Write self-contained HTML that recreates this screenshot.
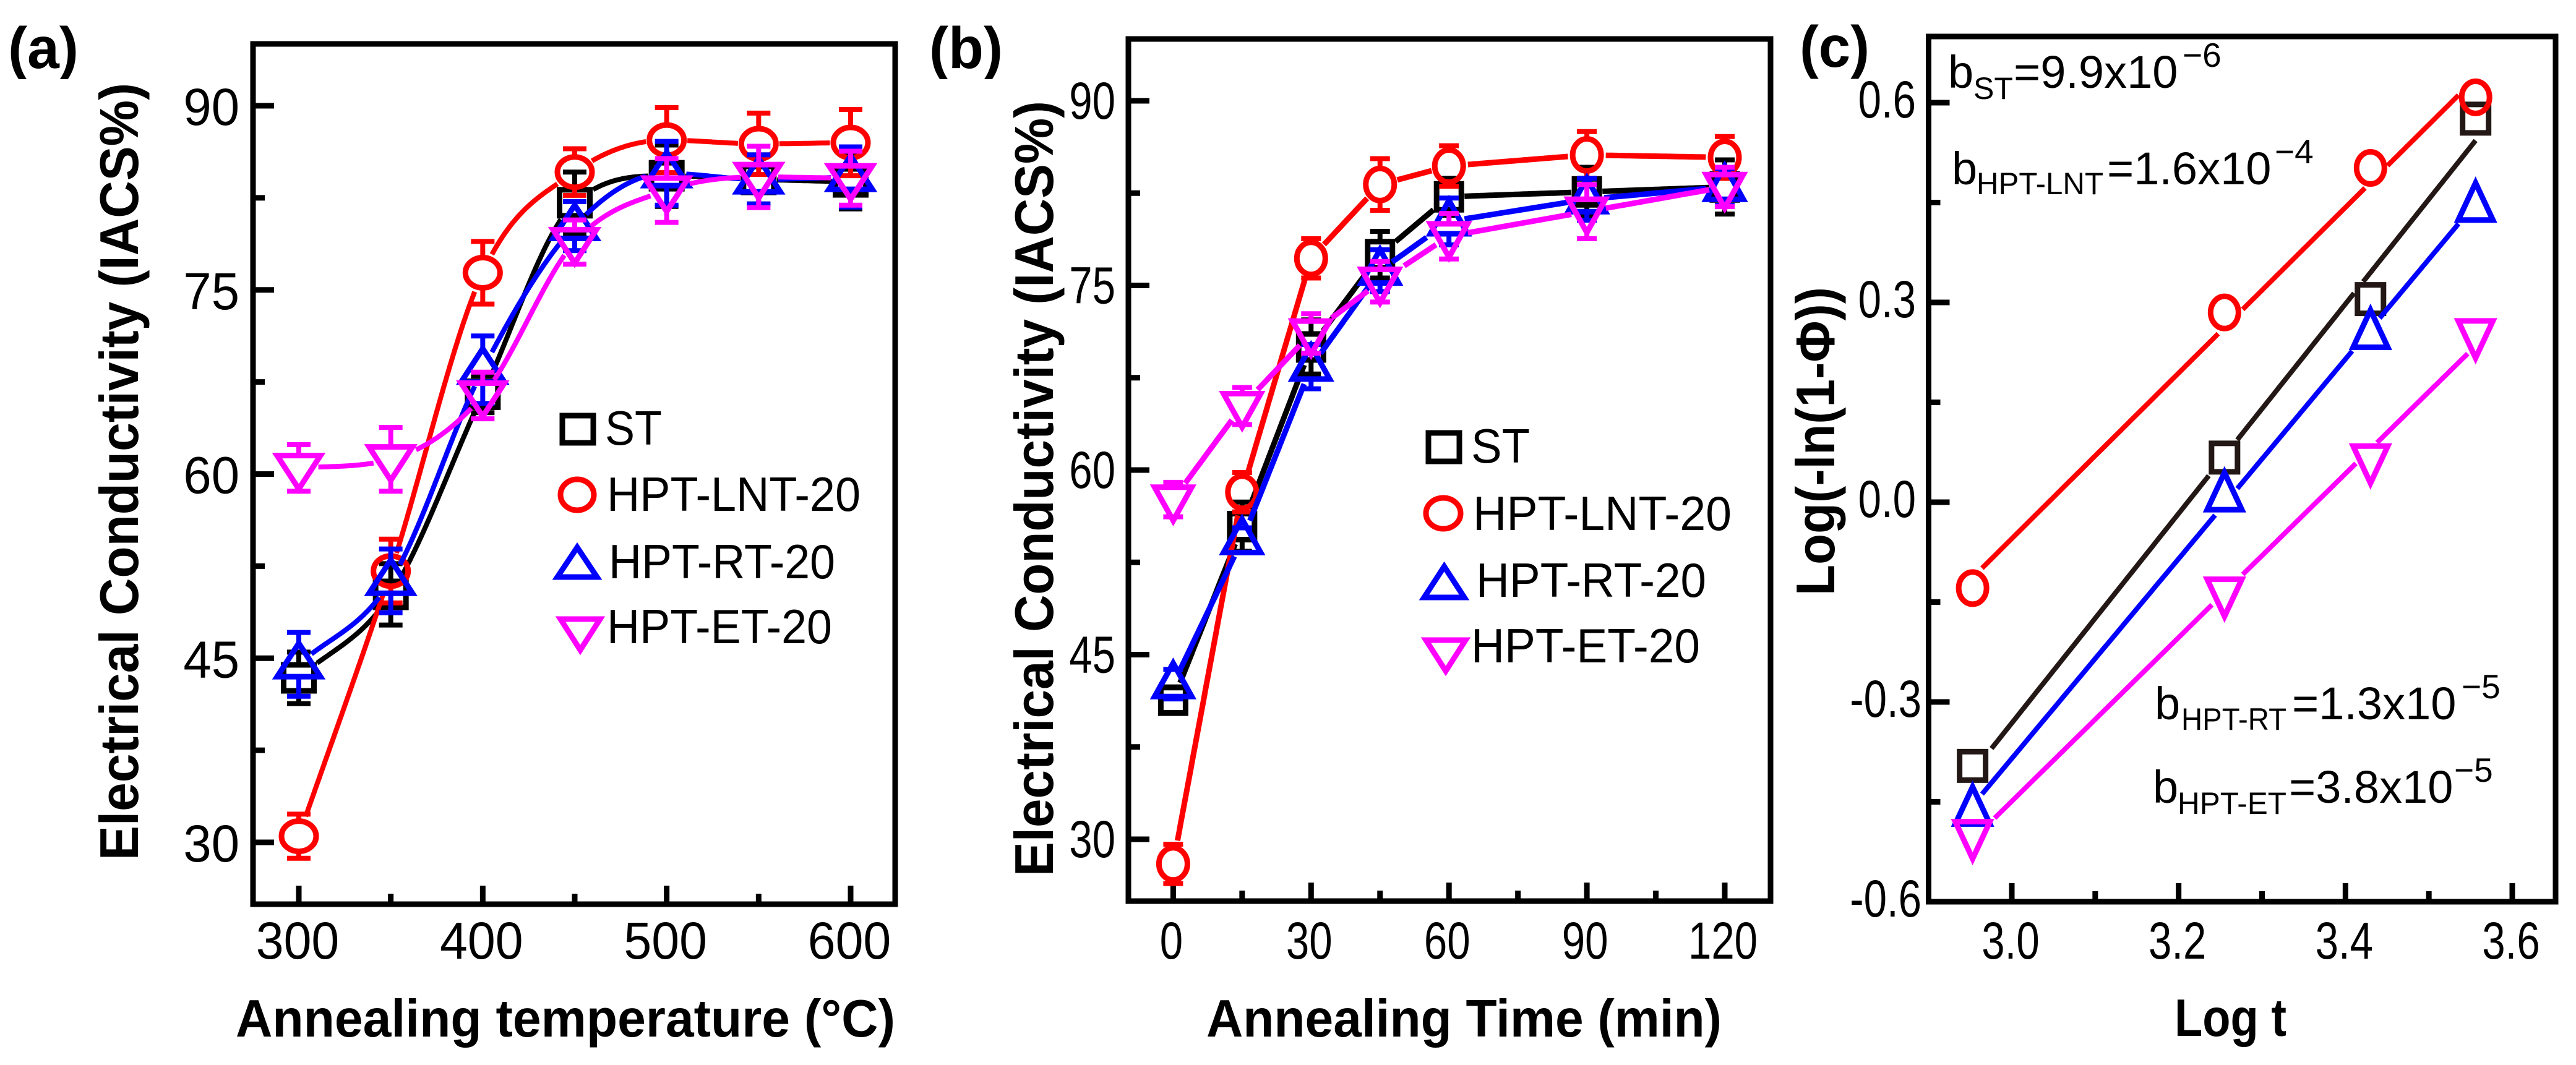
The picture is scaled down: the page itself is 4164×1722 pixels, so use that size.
<!DOCTYPE html>
<html lang="en">
<head>
<meta charset="utf-8">
<title>Electrical conductivity annealing charts</title>
<style>
html,body{margin:0;padding:0;background:#fff;}
svg{display:block;}
text{font-family:"Liberation Sans",Arial,sans-serif;fill:#000;}
.tb{font-weight:bold;font-size:85px;}
.ty{font-weight:bold;font-size:88px;}
.lg{font-size:78px;}
.an{font-size:74px;}
.sub{font-size:50px;}
.sup{font-size:55px;}
.pl{font-weight:bold;font-size:95px;}
.frame{fill:none;stroke:#000;stroke-width:9;}
</style>
</head>
<body>
<svg id="fig" xmlns="http://www.w3.org/2000/svg" width="4164" height="1722" viewBox="0 0 4164 1722">
<defs><clipPath id="plabel-clip"><rect x="0" y="37" width="4164" height="91"/></clipPath></defs>
<rect x="0" y="0" width="4164" height="1722" fill="#fff"/>

<g clip-path="url(#plabel-clip)">
<text class="pl" x="13" y="110" textLength="114" lengthAdjust="spacingAndGlyphs">(a)</text>
<text class="pl" x="1502" y="110" textLength="119" lengthAdjust="spacingAndGlyphs">(b)</text>
<text class="pl" x="2909" y="108" textLength="113" lengthAdjust="spacingAndGlyphs">(c)</text>
</g>

<g id="panel-a">
<rect class="frame" x="409" y="71" width="1038" height="1391"/>
<text class="ty" transform="translate(223,1391) rotate(-90)" textLength="1257" lengthAdjust="spacingAndGlyphs">Electrical Conductivity (IACS%)</text>
<text class="tb" x="381" y="1676" textLength="1066" lengthAdjust="spacingAndGlyphs">Annealing temperature (°C)</text>
</g>

<g id="panel-b">
<rect class="frame" x="1824" y="63" width="1038" height="1394"/>
<text class="ty" transform="translate(1702,1417) rotate(-90)" textLength="1254" lengthAdjust="spacingAndGlyphs">Electrical Conductivity (IACS%)</text>
<text class="tb" x="1950" y="1676" textLength="833" lengthAdjust="spacingAndGlyphs">Annealing Time (min)</text>
</g>

<g id="panel-c">
<rect class="frame" x="3117.5" y="59" width="1013.5" height="1399"/>
<text class="ty" transform="translate(2965,963) rotate(-90)" textLength="499" lengthAdjust="spacingAndGlyphs">Log(-ln(1-Φ))</text>
<text class="tb" x="3515" y="1675" textLength="181" lengthAdjust="spacingAndGlyphs">Log t</text>
<text class="an"><tspan x="3149" y="142">b</tspan><tspan class="sub" x="3190" y="160">ST</tspan><tspan x="3255" y="142">=9.9x10</tspan><tspan class="sup" x="3528" y="108">−6</tspan></text>
<text class="an"><tspan x="3155" y="298">b</tspan><tspan class="sub" x="3195" y="314" textLength="205" lengthAdjust="spacingAndGlyphs">HPT-LNT</tspan><tspan x="3406" y="298">=1.6x10</tspan><tspan class="sup" x="3677" y="264">−4</tspan></text>
<text class="an"><tspan x="3483" y="1163">b</tspan><tspan class="sub" x="3526" y="1180" textLength="170" lengthAdjust="spacingAndGlyphs">HPT-RT</tspan><tspan x="3705" y="1163">=1.3x10</tspan><tspan class="sup" x="3979" y="1129">−5</tspan></text>
<text class="an"><tspan x="3480" y="1298">b</tspan><tspan class="sub" x="3520" y="1316" textLength="176" lengthAdjust="spacingAndGlyphs">HPT-ET</tspan><tspan x="3700" y="1298">=3.8x10</tspan><tspan class="sup" x="3967" y="1264">−5</tspan></text>
</g>

<g id="legend-a">
<g>
<rect x="909" y="672" width="50" height="44" fill="none" stroke="#000" stroke-width="9"/>
<text class="lg" x="978" y="719" textLength="92" lengthAdjust="spacingAndGlyphs">ST</text></g>
<g>
<ellipse cx="933" cy="800" rx="27" ry="25" fill="none" stroke="#f00" stroke-width="9"/>
<text class="lg" x="981" y="826" textLength="410" lengthAdjust="spacingAndGlyphs">HPT-LNT-20</text></g>
<g>
<polygon points="933,885 965,933 901,933" fill="none" stroke="#00f" stroke-width="9"/>
<text class="lg" x="984" y="935" textLength="366" lengthAdjust="spacingAndGlyphs">HPT-RT-20</text></g>
<g>
<polygon points="938,1051 970,1001 906,1001" fill="none" stroke="#f0f" stroke-width="9"/>
<text class="lg" x="981" y="1040" textLength="364" lengthAdjust="spacingAndGlyphs">HPT-ET-20</text></g>
</g>

<g id="legend-b">
<g>
<rect x="2309" y="700" width="50" height="46" fill="none" stroke="#000" stroke-width="9"/>
<text class="lg" x="2378" y="748" textLength="95" lengthAdjust="spacingAndGlyphs">ST</text></g>
<g>
<ellipse cx="2333" cy="830" rx="28" ry="25" fill="none" stroke="#f00" stroke-width="9"/>
<text class="lg" x="2381" y="857" textLength="418" lengthAdjust="spacingAndGlyphs">HPT-LNT-20</text></g>
<g>
<polygon points="2334.5,916 2367,966 2302,966" fill="none" stroke="#00f" stroke-width="9"/>
<text class="lg" x="2386" y="965" textLength="372" lengthAdjust="spacingAndGlyphs">HPT-RT-20</text></g>
<g>
<polygon points="2337,1085 2369,1035 2305,1035" fill="none" stroke="#f0f" stroke-width="9"/>
<text class="lg" x="2378" y="1071" textLength="370" lengthAdjust="spacingAndGlyphs">HPT-ET-20</text></g>
</g>
</svg>

<script>
// ---- Panel (a) data ----
const tempValues = [300, 350, 400, 450, 500, 550, 600];
const tempST = [43.4, 50.2, 66.5, 82.1, 84.3, 84.0, 83.8];
const tempSTErr = [2.1, 2.5, 1.5, 2.5, 2.5, 2.0, 2.2];
const tempLNT = [30.5, 52.1, 76.4, 84.6, 87.2, 86.9, 87.0];
const tempLNTErr = [1.8, 2.6, 2.55, 1.9, 2.65, 2.5, 2.7];
const tempRT = [44.5, 51.3, 68.5, 80.2, 84.5, 84.0, 84.2];
const tempRTErr = [2.6, 2.6, 2.75, 2.0, 2.6, 2.0, 2.45];
const tempET = [60.5, 61.2, 66.4, 78.9, 83.1, 84.2, 84.1];
const tempETErr = [1.9, 2.6, 1.9, 1.8, 2.6, 2.5, 2.2];
const tempXTicks = [300, 400, 500, 600];
const tempXMinor = [350, 450, 550];
const condYTicks = [30, 45, 60, 75, 90];
const condYMinor = [37.5, 52.5, 67.5, 82.5];

// ---- Panel (b) data ----
const timeValues = [0, 15, 30, 45, 60, 90, 120];
const timeST = [41.3, 55.4, 70.0, 77.5, 82.2, 82.6, 83.0];
const timeSTErr = [1.0, 2.0, 2.2, 1.9, 1.5, 2.0, 2.2];
const timeLNT = [28.0, 58.2, 77.2, 83.2, 84.7, 85.6, 85.4];
const timeLNTErr = [1.6, 1.6, 1.6, 2.1, 1.65, 1.9, 1.7];
const timeRT = [42.6, 54.3, 68.4, 76.2, 80.2, 82.0, 83.0];
const timeRTErr = [1.2, 1.0, 1.8, 1.7, 1.9, 1.7, 1.5];
const timeET = [57.6, 65.2, 71.1, 75.3, 79.0, 81.0, 83.0];
const timeETErr = [1.4, 1.5, 1.6, 1.65, 1.85, 2.2, 1.6];
const timeXTicks = [0, 30, 60, 90, 120];
const timeXMinor = [15, 45, 75, 105];

// ---- Panel (c) data ----
const logT = [2.953, 3.255, 3.43, 3.556];
const logST = [-0.396, 0.067, 0.305, 0.576];
const logLNT = [-0.129, 0.285, 0.502, 0.608];
const logRT = [-0.461, 0.011, 0.255, 0.446];
const logET = [-0.502, -0.138, 0.062, 0.25];
const logXTicks = ['3.0', '3.2', '3.4', '3.6'];
const logXMinor = [3.1, 3.3, 3.5];
const logYTicks = ['-0.6', '-0.3', '0.0', '0.3', '0.6'];
const logYMinor = [-0.45, -0.15, 0.15, 0.45];

const NS = 'http://www.w3.org/2000/svg';

function linear(d0, d1, p0, p1) {
  return function (v) { return p0 + (v - d0) * (p1 - p0) / (d1 - d0); };
}

function make(tag, attrs, parent) {
  const el = document.createElementNS(NS, tag);
  for (const k in attrs) el.setAttribute(k, attrs[k]);
  parent.appendChild(el);
  return el;
}

// Monotone cubic tangents (Fritsch-Carlson)
function tangents(xs, ys) {
  const n = xs.length, d = [], m = [];
  for (let i = 0; i < n - 1; i++) d.push((ys[i + 1] - ys[i]) / (xs[i + 1] - xs[i]));
  m.push(d[0]);
  for (let i = 1; i < n - 1; i++) m.push(d[i - 1] * d[i] <= 0 ? 0 : (d[i - 1] + d[i]) / 2);
  m.push(d[n - 2]);
  for (let i = 0; i < n - 1; i++) {
    if (d[i] === 0) { m[i] = 0; m[i + 1] = 0; continue; }
    const a = m[i] / d[i], b = m[i + 1] / d[i], s = a * a + b * b;
    if (s > 9) { const t = 3 / Math.sqrt(s); m[i] = t * a * d[i]; m[i + 1] = t * b * d[i]; }
  }
  return m;
}

// Least-squares line through the series, used for the Avrami fits in panel (c)
function fitValues(xs, ys) {
  const n = xs.length;
  const mx = xs.reduce(function (a, b) { return a + b; }, 0) / n;
  const my = ys.reduce(function (a, b) { return a + b; }, 0) / n;
  let sxy = 0, sxx = 0;
  xs.forEach(function (x, i) { sxy += (x - mx) * (ys[i] - my); sxx += (x - mx) * (x - mx); });
  const slope = sxy / sxx;
  return xs.map(function (x) { return my + slope * (x - mx); });
}

function sampleCurve(xs, values, mode) {
  const ys = mode === 'fit' ? fitValues(xs, values) : values;
  const smooth = mode === 'smooth';
  const pts = [], steps = 80;
  const m = smooth ? tangents(xs, ys) : null;
  for (let i = 0; i < xs.length - 1; i++) {
    const h = xs[i + 1] - xs[i];
    for (let j = 0; j <= steps; j++) {
      const t = j / steps;
      let y;
      if (smooth) {
        const t2 = t * t, t3 = t2 * t;
        y = (2 * t3 - 3 * t2 + 1) * ys[i] + (t3 - 2 * t2 + t) * h * m[i] + (-2 * t3 + 3 * t2) * ys[i + 1] + (t3 - t2) * h * m[i + 1];
      } else {
        y = ys[i] + t * (ys[i + 1] - ys[i]);
      }
      pts.push([xs[i] + t * h, y]);
    }
  }
  return pts;
}

function insideMarker(shape, g, dx, dy) {
  const pad = 5;
  if (shape === 'circle') {
    const a = dx / (g.rx + pad), b = dy / (g.ry + pad);
    return a * a + b * b < 1;
  }
  if (shape === 'square') return Math.abs(dx) < g.sx + pad && Math.abs(dy) < g.sy + pad;
  const yy = shape === 'up' ? dy : -dy;
  if (yy < -g.h1 - pad || yy > g.h2 + pad) return false;
  const half = g.w * (yy + g.h1) / (g.h1 + g.h2);
  return Math.abs(dx) < half + pad + 3;
}

function markerBounds(shape, g) {
  if (shape === 'circle') return [g.ry, g.ry];
  if (shape === 'square') return [g.sy, g.sy];
  return shape === 'up' ? [g.h1, g.h2] : [g.h2, g.h1];
}

function drawMarker(shape, g, cx, cy, color, parent) {
  const sw = 9;
  if (shape === 'circle') {
    return make('ellipse', { cx: cx, cy: cy, rx: g.rx, ry: g.ry, fill: 'none', stroke: color, 'stroke-width': sw }, parent);
  }
  if (shape === 'square') {
    return make('rect', { x: cx - g.sx, y: cy - g.sy, width: 2 * g.sx, height: 2 * g.sy, fill: 'none', stroke: color, 'stroke-width': sw }, parent);
  }
  const s = shape === 'up' ? 1 : -1;
  const p = cx + ',' + (cy - s * g.h1) + ' ' + (cx + g.w) + ',' + (cy + s * g.h2) + ' ' + (cx - g.w) + ',' + (cy + s * g.h2);
  return make('polygon', { points: p, fill: 'none', stroke: color, 'stroke-width': sw }, parent);
}

function drawSeries(panel, name, shape, color, xs, ys, errs, xScale, yScale, g, mode, capHalf, sw) {
  const grp = make('g', {}, panel);
  
  

  const centers = xs.map(function (x, i) { return [xScale(x), yScale(ys[i])]; });
  const samples = sampleCurve(xs, ys, mode);
  let d = '', pen = false;
  samples.forEach(function (p) {
    const px = xScale(p[0]), py = yScale(p[1]);
    const hidden = centers.some(function (c) { return insideMarker(shape, g, px - c[0], py - c[1]); });
    if (hidden) { pen = false; return; }
    d += (pen ? 'L' : 'M') + px.toFixed(1) + ' ' + py.toFixed(1);
    pen = true;
  });
  const line = make('path', { d: d, fill: 'none', stroke: color, 'stroke-width': sw, 'stroke-linejoin': 'round' }, grp);
  
  

  const bounds = markerBounds(shape, g);
  centers.forEach(function (c, i) {
    if (errs) {
      const top = yScale(ys[i] + errs[i]), bot = yScale(ys[i] - errs[i]);
      const e = [];
      if (top < c[1] - bounds[0]) e.push('M' + c[0] + ' ' + (c[1] - bounds[0]) + 'L' + c[0] + ' ' + top);
      if (bot > c[1] + bounds[1]) e.push('M' + c[0] + ' ' + (c[1] + bounds[1]) + 'L' + c[0] + ' ' + bot);
      e.push('M' + (c[0] - capHalf) + ' ' + top + 'L' + (c[0] + capHalf) + ' ' + top);
      e.push('M' + (c[0] - capHalf) + ' ' + bot + 'L' + (c[0] + capHalf) + ' ' + bot);
      const bar = make('path', { d: e.join(''), fill: 'none', stroke: color, 'stroke-width': 8 }, grp);
      
      
    }
    const mk = drawMarker(shape, g, c[0], c[1], color, grp);
    
    
  });
}

function tickLabel(parent, label, x, y, anchor, sx, axisName) {
  const t = make('text', { transform: 'translate(' + x + ',' + y + ') scale(' + sx + ',1)', 'text-anchor': anchor, 'font-size': 84 }, parent);
  t.textContent = label;
  
  
}

function drawTicks(panel, name, frame, xScale, yScale, xMajor, xMinor, yMajor, yMinor, xOpts, yOpts) {
  const grp = make('g', {}, panel);
  
  
  let d = '';
  xMajor.forEach(function (v) {
    const x = xScale(Number(v));
    d += 'M' + x + ' ' + frame.bottom + 'L' + x + ' ' + (frame.bottom - 30);
    tickLabel(grp, String(v), x + xOpts.dx, 1550, 'middle', xOpts.sx, 'x-axis-' + name);
  });
  xMinor.forEach(function (v) {
    const x = xScale(v);
    d += 'M' + x + ' ' + frame.bottom + 'L' + x + ' ' + (frame.bottom - 17);
  });
  yMajor.forEach(function (v) {
    const n = Number(v), y = yScale(n);
    d += 'M' + frame.left + ' ' + y + 'L' + (frame.left + 34) + ' ' + y;
    tickLabel(grp, String(v), n < 0 ? yOpts.rightNeg : yOpts.right, y + yOpts.dy, 'end', yOpts.sx, 'y-axis-' + name);
  });
  yMinor.forEach(function (v) {
    const y = yScale(v);
    d += 'M' + frame.left + ' ' + y + 'L' + (frame.left + 19) + ' ' + y;
  });
  const marks = make('path', { d: d, fill: 'none', stroke: '#000', 'stroke-width': 9 }, grp);
  
  
}

// Panel (a)
const panelA = document.getElementById('panel-a');
const ax = linear(300, 600, 483, 1375), ay = linear(30, 90, 1362, 171);
const geoA = { rx: 28, ry: 24.5, sx: 24.5, sy: 21, w: 35, h1: 34, h2: 20 };
drawTicks(panelA, 'a', { left: 409, bottom: 1462 }, ax, ay, tempXTicks, tempXMinor, condYTicks, condYMinor,
  { dx: -2, sx: 0.96 }, { right: 387, rightNeg: 387, dy: 31, sx: 0.97 });
drawSeries(panelA, 'st-a', 'square', '#000', tempValues, tempST, tempSTErr, ax, ay, geoA, 'smooth', 19, 8);
drawSeries(panelA, 'lnt-a', 'circle', '#f00', tempValues, tempLNT, tempLNTErr, ax, ay, geoA, 'smooth', 19, 8);
drawSeries(panelA, 'rt-a', 'up', '#00f', tempValues, tempRT, tempRTErr, ax, ay, geoA, 'smooth', 19, 8);
drawSeries(panelA, 'et-a', 'down', '#f0f', tempValues, tempET, tempETErr, ax, ay, geoA, 'smooth', 19, 8);

// Panel (b)
const panelB = document.getElementById('panel-b');
const bx = linear(0, 120, 1896.4, 2788), by = linear(30, 90, 1357, 163);
const geoB = { rx: 23, ry: 26, sx: 20, sy: 21, w: 30, h1: 34, h2: 20 };
drawTicks(panelB, 'b', { left: 1824, bottom: 1457 }, bx, by, timeXTicks, timeXMinor, condYTicks, condYMinor,
  { dx: -3, sx: 0.8 }, { right: 1803, rightNeg: 1803, dy: 29, sx: 0.8 });
drawSeries(panelB, 'st-b', 'square', '#000', timeValues, timeST, timeSTErr, bx, by, geoB, 'line', 16, 9);
drawSeries(panelB, 'lnt-b', 'circle', '#f00', timeValues, timeLNT, timeLNTErr, bx, by, geoB, 'line', 16, 9);
drawSeries(panelB, 'rt-b', 'up', '#00f', timeValues, timeRT, timeRTErr, bx, by, geoB, 'line', 16, 9);
drawSeries(panelB, 'et-b', 'down', '#f0f', timeValues, timeET, timeETErr, bx, by, geoB, 'line', 16, 9);

// Panel (c)
const panelC = document.getElementById('panel-c');
const cx = linear(3, 3.6, 3252, 4061), cy = linear(-0.6, 0.6, 1458, 166);
const geoC = { rx: 22.5, ry: 26, sx: 21, sy: 23, w: 28, h1: 36, h2: 24 };
drawTicks(panelC, 'c', { left: 3117.5, bottom: 1458 }, cx, cy, logXTicks, logXMinor, logYTicks, logYMinor,
  { dx: -2, sx: 0.8 }, { right: 3097, rightNeg: 3106, dy: 24, sx: 0.8 });
drawSeries(panelC, 'st-c', 'square', '#231815', logT, logST, null, cx, cy, geoC, 'fit', 0, 8);
drawSeries(panelC, 'lnt-c', 'circle', '#f00', logT, logLNT, null, cx, cy, geoC, 'fit', 0, 8);
drawSeries(panelC, 'rt-c', 'up', '#00f', logT, logRT, null, cx, cy, geoC, 'fit', 0, 8);
drawSeries(panelC, 'et-c', 'down', '#f0f', logT, logET, null, cx, cy, geoC, 'fit', 0, 8);
</script>
</body>
</html>
